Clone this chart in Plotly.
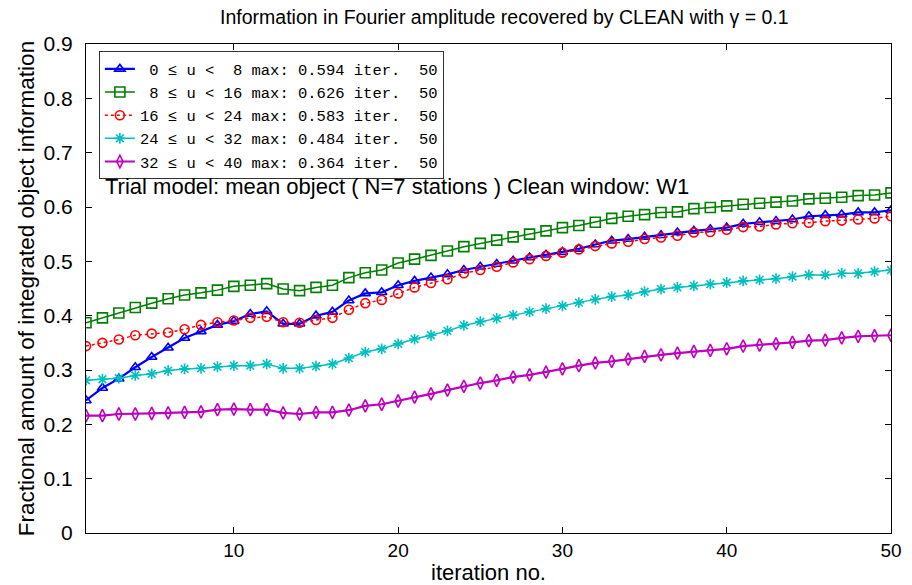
import plotly.graph_objects as go

iterations = list(range(1, 51))

info_0_8 = [0.244, 0.267, 0.284, 0.305, 0.324, 0.341, 0.359, 0.371, 0.383, 0.390,
            0.403, 0.408, 0.385, 0.385, 0.400, 0.407, 0.428, 0.441, 0.443, 0.456,
            0.464, 0.470, 0.476, 0.484, 0.490, 0.495, 0.501, 0.507, 0.512, 0.517,
            0.523, 0.531, 0.538, 0.541, 0.545, 0.548, 0.553, 0.556, 0.559, 0.562,
            0.569, 0.572, 0.574, 0.577, 0.583, 0.585, 0.586, 0.590, 0.590, 0.594]
info_8_16 = [0.387, 0.396, 0.405, 0.415, 0.423, 0.431, 0.438, 0.442, 0.447, 0.454,
             0.456, 0.459, 0.449, 0.446, 0.452, 0.456, 0.470, 0.479, 0.484, 0.497,
             0.504, 0.511, 0.519, 0.527, 0.533, 0.539, 0.545, 0.550, 0.556, 0.562,
             0.566, 0.572, 0.579, 0.583, 0.586, 0.590, 0.591, 0.597, 0.599, 0.602,
             0.605, 0.607, 0.609, 0.611, 0.615, 0.616, 0.618, 0.621, 0.622, 0.626]
info_16_24 = [0.344, 0.350, 0.356, 0.364, 0.367, 0.369, 0.375, 0.383, 0.388, 0.391,
              0.396, 0.398, 0.388, 0.387, 0.392, 0.396, 0.411, 0.423, 0.429, 0.441,
              0.452, 0.460, 0.467, 0.478, 0.484, 0.490, 0.498, 0.504, 0.510, 0.516,
              0.522, 0.528, 0.533, 0.536, 0.541, 0.544, 0.547, 0.553, 0.554, 0.558,
              0.563, 0.564, 0.568, 0.570, 0.571, 0.574, 0.575, 0.577, 0.579, 0.583]
info_24_32 = [0.281, 0.283, 0.285, 0.290, 0.293, 0.299, 0.302, 0.303, 0.306, 0.308,
              0.308, 0.311, 0.303, 0.303, 0.307, 0.311, 0.322, 0.333, 0.339, 0.348,
              0.357, 0.364, 0.372, 0.382, 0.389, 0.395, 0.401, 0.407, 0.413, 0.418,
              0.424, 0.430, 0.435, 0.438, 0.444, 0.449, 0.452, 0.455, 0.458, 0.461,
              0.464, 0.466, 0.468, 0.472, 0.475, 0.475, 0.478, 0.478, 0.481, 0.484]
info_32_40 = [0.216, 0.216, 0.219, 0.219, 0.220, 0.221, 0.222, 0.223, 0.227, 0.228,
              0.227, 0.227, 0.221, 0.219, 0.222, 0.222, 0.226, 0.234, 0.237, 0.243,
              0.250, 0.256, 0.263, 0.270, 0.276, 0.281, 0.287, 0.291, 0.296, 0.302,
              0.308, 0.313, 0.316, 0.320, 0.325, 0.328, 0.331, 0.334, 0.336, 0.339,
              0.344, 0.346, 0.348, 0.351, 0.354, 0.355, 0.359, 0.362, 0.363, 0.364]

u_low = [0, 8, 16, 24, 32]
u_high = [8, 16, 24, 32, 40]
max_values = [0.594, 0.626, 0.583, 0.484, 0.364]
max_iters = [50, 50, 50, 50, 50]
series = [info_0_8, info_8_16, info_16_24, info_24_32, info_32_40]

colors = ["#0000FF", "#008000", "#FF0000", "#00BFBF", "#BF00BF"]
symbols = ["triangle-up-open", "square-open", "circle-open", "asterisk-open", "diamond-tall-open"]
dashes = ["solid", "solid", "dot", "solid", "solid"]
msizes = [9, 10, 9, 9, 9]
lwidths = [2.2, 1.5, 1.5, 1.5, 2.2]

fig = go.Figure()
for k in range(5):
    label = f"{u_low[k]:2d} ≤ u < {u_high[k]:2d} max: {max_values[k]:.3f} iter. {max_iters[k]:3d}"
    label = label.replace(" ", "\u00a0")
    fig.add_trace(go.Scatter(
        x=iterations, y=series[k], mode="lines+markers", name=label,
        line=dict(color=colors[k], width=lwidths[k], dash=dashes[k]),
        marker=dict(symbol=symbols[k], size=msizes[k], color=colors[k],
                    line=dict(color=colors[k], width=1.6)),
    ))

axis_common = dict(showline=True, linecolor="black", linewidth=1, mirror="ticks",
                   ticks="inside", ticklen=6, tickcolor="black", showgrid=False,
                   zeroline=False, automargin=False)

fig.update_layout(
    width=912, height=585,
    margin=dict(l=86, r=21, t=44, b=52),
    plot_bgcolor="white", paper_bgcolor="white",
    font=dict(family="Liberation Sans", color="black"),
    title=dict(text="Information in Fourier amplitude recovered by CLEAN with γ = 0.1",
               x=0.553, xanchor="center", y=0.970, yanchor="middle",
               font=dict(family="Liberation Sans", size=19.5, color="black")),
    xaxis=dict(range=[1, 50], tickvals=[10, 20, 30, 40, 50],
               tickfont=dict(family="Liberation Sans", size=19, color="black"),
               title=dict(text="iteration no.", standoff=4,
                          font=dict(family="Liberation Sans", size=22, color="black")),
               **axis_common),
    yaxis=dict(range=[0, 0.9], dtick=0.1, tick0=0, ticklabelstandoff=8,
               tickfont=dict(family="Liberation Sans", size=21, color="black"),
               title=dict(text="Fractional amount of integrated object information", standoff=2,
                          font=dict(family="Liberation Sans", size=22.5, color="black")),
               **axis_common),
    legend=dict(x=0.016, y=0.985, xanchor="left", yanchor="top",
                bgcolor="white", bordercolor="#333333", borderwidth=1,
                font=dict(family="Liberation Mono", size=15.5, color="black"),
                itemwidth=30, tracegroupgap=0),
    showlegend=True,
)

fig.add_annotation(text="Trial model: mean object ( N=7 stations ) Clean window: W1",
                   xref="paper", yref="paper", x=0.021, y=0.708, xanchor="left", yanchor="middle",
                   showarrow=False, font=dict(family="Liberation Sans", size=22, color="black"))

fig.write_html("out.html")
